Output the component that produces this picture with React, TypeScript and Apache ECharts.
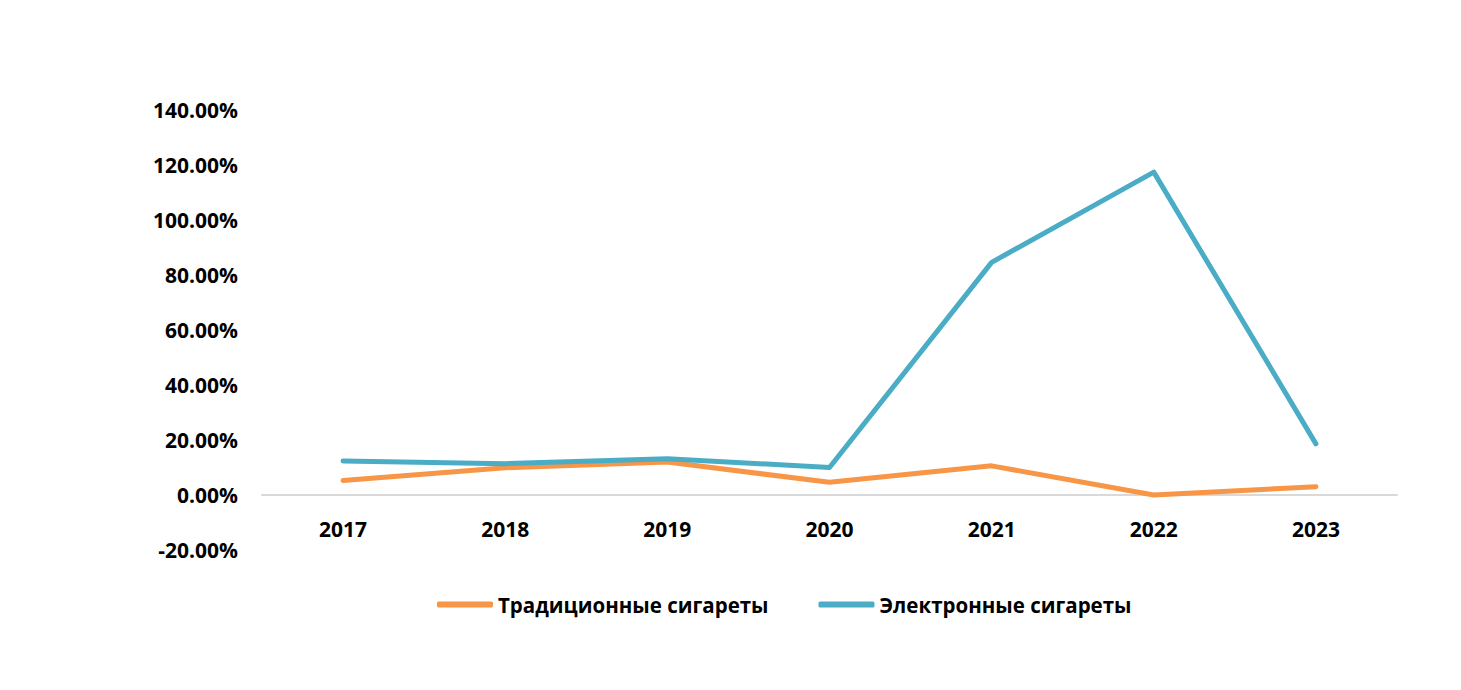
import React, { useEffect, useRef } from "react";
import * as echarts from "echarts";

const years = ["2017", "2018", "2019", "2020", "2021", "2022", "2023"];
const traditional = [5.3, 9.9, 12.0, 4.6, 10.6, 0.0, 3.0];
const electronic = [12.4, 11.4, 13.2, 10.0, 84.6, 117.4, 18.6];
const seriesNames = ["Традиционные сигареты", "Электронные сигареты"];
const colors = ["#F79646", "#4BACC6"];

const FONT = "'Open Sans', 'Noto Sans', sans-serif";

export default function App() {
  const ref = useRef<HTMLDivElement>(null);
  useEffect(() => {
    if (!ref.current) return;
    const chart = echarts.init(ref.current, undefined, { renderer: "svg" });
    chart.setOption({
      animation: false,
      backgroundColor: "#ffffff",
      grid: { left: 262, right: 64, top: 110, bottom: 140, containLabel: false },
      legend: {
        data: seriesNames,
        left: 432,
        top: 589,
        itemWidth: 56,
        itemHeight: 6,
        itemGap: 50,
        icon: "roundRect",
        textStyle: { fontFamily: FONT, fontWeight: "bold", fontSize: 20.5, color: "#000" },
      },
      xAxis: {
        type: "category",
        data: years,
        boundaryGap: true,
        axisLine: { onZero: true, lineStyle: { color: "#d9d9d9", width: 2 } },
        axisTick: { show: false },
        axisLabel: {
          margin: -32,
          color: "#000",
          fontFamily: FONT,
          fontWeight: "bold",
          fontSize: 21,
        },
        splitLine: { show: false },
      },
      yAxis: {
        type: "value",
        min: -20,
        max: 140,
        interval: 20,
        axisLine: { show: false },
        axisTick: { show: false },
        splitLine: { show: false },
        axisLabel: {
          margin: 24,
          color: "#000",
          fontFamily: FONT,
          fontWeight: "bold",
          fontSize: 21,
          formatter: (v: number) => v.toFixed(2) + "%",
        },
      },
      series: [
        {
          name: seriesNames[0],
          type: "line",
          data: traditional,
          symbol: "none",
          color: colors[0],
          lineStyle: { width: 5, color: colors[0], cap: "round", join: "round" },
        },
        {
          name: seriesNames[1],
          type: "line",
          data: electronic,
          symbol: "none",
          color: colors[1],
          lineStyle: { width: 5, color: colors[1], cap: "round", join: "round" },
        },
      ],
    });
    return () => chart.dispose();
  }, []);
  return (
    <div
      ref={ref}
      style={{ position: "fixed", left: 0, top: 0, width: 1461, height: 690, background: "#fff" }}
    />
  );
}
